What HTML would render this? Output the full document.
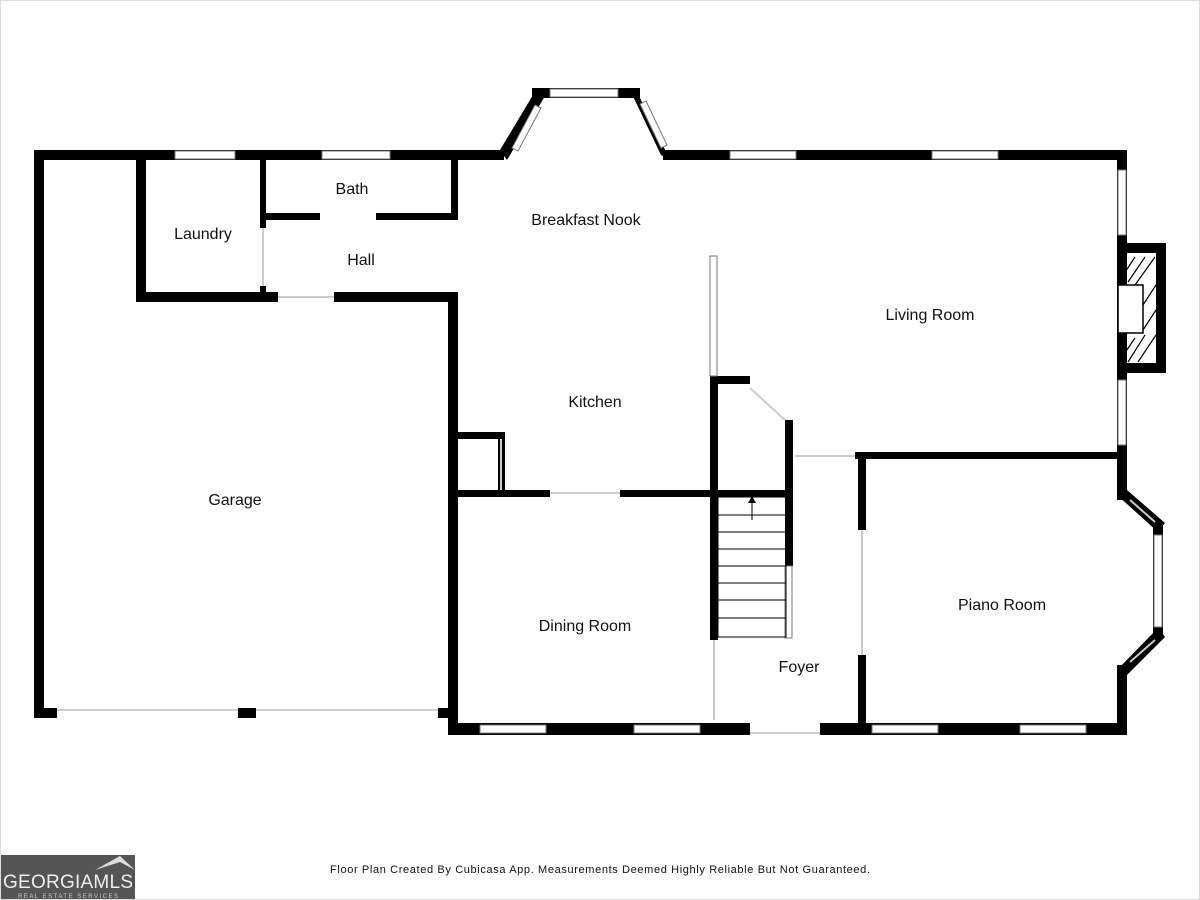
<!DOCTYPE html>
<html><head><style>body{margin:0;background:#fff}svg{display:block}</style></head><body>
<svg width="1200" height="900" xmlns="http://www.w3.org/2000/svg" font-family="Liberation Sans, sans-serif">
<rect width="1200" height="900" fill="#fff"/>
<g fill="#000">
<rect x="34" y="150" width="470" height="10"/>
<rect x="663" y="150" width="464" height="10"/>
<rect x="532" y="88" width="108" height="10"/>
<polygon points="500,150 507,160 545,96 536,90"/>
<polygon points="630,90 639,96 670,160 661,155"/>
<rect x="34" y="150" width="10" height="568"/>
<rect x="34" y="708" width="23" height="10"/>
<rect x="238" y="708" width="18" height="10"/>
<rect x="438" y="708" width="20" height="10"/>
<rect x="448" y="292" width="10" height="443"/>
<rect x="136" y="150" width="10" height="152"/>
<rect x="136" y="292" width="142" height="10"/>
<rect x="334" y="292" width="124" height="10"/>
<rect x="260" y="150" width="6" height="78"/>
<rect x="260" y="286" width="6" height="10"/>
<rect x="451" y="150" width="7" height="70"/>
<rect x="266" y="213" width="54" height="7"/>
<rect x="376" y="213" width="82" height="7"/>
<rect x="1117" y="150" width="10" height="95"/>
<rect x="1117" y="243" width="49" height="130"/>
<rect x="1117" y="373" width="10" height="82"/>
<rect x="1117" y="450" width="10" height="50"/>
<polygon points="1117,495 1127,490 1165,523 1158,532"/>
<rect x="1153" y="525" width="10" height="110"/>
<polygon points="1158,628 1165,637 1127,675 1117,670"/>
<rect x="1117" y="665" width="10" height="70"/>
<rect x="448" y="723" width="302" height="12"/>
<rect x="820" y="723" width="307" height="12"/>
<rect x="458" y="490" width="92" height="7"/>
<rect x="620" y="490" width="165" height="7"/>
<rect x="458" y="432" width="47" height="7"/>
<rect x="498" y="432" width="7" height="58"/>
<rect x="710" y="376" width="8" height="264"/>
<rect x="710" y="376" width="40" height="8"/>
<rect x="785" y="420" width="8" height="146"/>
<rect x="855" y="452" width="272" height="7"/>
<rect x="858" y="452" width="8" height="78"/>
<rect x="858" y="655" width="8" height="80"/>
</g>
<rect x="1127" y="253" width="29" height="110" fill="#fff"/>
<g stroke="#000" stroke-width="1.2">
<line x1="1120" y1="280" x2="1135" y2="257"/><line x1="1128" y1="282" x2="1145" y2="257"/><line x1="1135" y1="285" x2="1155" y2="257"/>
<line x1="1143" y1="305" x2="1156" y2="285"/><line x1="1143" y1="330" x2="1156" y2="310"/>
<line x1="1120" y1="360" x2="1135" y2="338"/><line x1="1128" y1="362" x2="1145" y2="335"/><line x1="1138" y1="362" x2="1156" y2="335"/>
</g>
<rect x="1118" y="285" width="25" height="48" fill="#fff" stroke="#000" stroke-width="1.5"/>
<g fill="#fff" stroke="#777" stroke-width="1">
<rect x="175" y="151" width="60" height="8"/><rect x="322" y="151" width="68" height="8"/>
<rect x="730" y="151" width="66" height="8"/><rect x="932" y="151" width="66" height="8"/>
<rect x="550" y="89" width="68" height="8"/>
<rect x="1118" y="170" width="8" height="65"/><rect x="1118" y="380" width="8" height="65"/>
<rect x="1154" y="535" width="8" height="92"/>
<rect x="480" y="725" width="66" height="8"/><rect x="634" y="725" width="66" height="8"/>
<rect x="872" y="725" width="66" height="8"/><rect x="1020" y="725" width="66" height="8"/>
<rect x="710" y="256" width="7" height="120"/>
<rect x="785" y="566" width="7" height="72"/>
<polygon points="512,148 518,151 541,108 535,105"/>
<polygon points="640,104 646,101 667,145 661,148"/>
</g>
<g stroke="#ccc" stroke-width="2" fill="none">
<line x1="1130" y1="500" x2="1155" y2="522"/><line x1="1130" y1="662" x2="1155" y2="640"/>
<line x1="750" y1="388" x2="785" y2="420"/>
<line x1="57" y1="710" x2="238" y2="710"/><line x1="256" y1="710" x2="438" y2="710"/>
<line x1="278" y1="297" x2="334" y2="297"/><line x1="263" y1="228" x2="263" y2="286"/>
<line x1="550" y1="493" x2="620" y2="493"/><line x1="501" y1="439" x2="501" y2="490"/>
<line x1="795" y1="456" x2="855" y2="456"/><line x1="862" y1="530" x2="862" y2="655"/>
<line x1="714" y1="640" x2="714" y2="720"/><line x1="750" y1="733" x2="820" y2="733"/>
</g>
<g stroke="#000" stroke-width="1" fill="none">
<rect x="718" y="497" width="68" height="140"/>
<line x1="718" y1="515" x2="786" y2="515"/><line x1="718" y1="532" x2="786" y2="532"/>
<line x1="718" y1="549" x2="786" y2="549"/><line x1="718" y1="566" x2="786" y2="566"/>
<line x1="718" y1="583" x2="786" y2="583"/><line x1="718" y1="600" x2="786" y2="600"/>
<line x1="718" y1="618" x2="786" y2="618"/>
<line x1="752" y1="500" x2="752" y2="520"/>
</g>
<polygon points="748,503 756,503 752,496" fill="#000"/>
<g font-size="16" fill="#111" text-anchor="middle">
<text x="352" y="194">Bath</text><text x="203" y="239">Laundry</text><text x="361" y="265">Hall</text>
<text x="586" y="225">Breakfast Nook</text><text x="930" y="320">Living Room</text>
<text x="595" y="407">Kitchen</text><text x="235" y="505">Garage</text>
<text x="585" y="631">Dining Room</text><text x="1002" y="610">Piano Room</text>
<text x="799" y="672">Foyer</text>
</g>
<text x="330" y="873" font-size="11" fill="#111" textLength="540" lengthAdjust="spacing">Floor Plan Created By Cubicasa App. Measurements Deemed Highly Reliable But Not Guaranteed.</text>
<rect x="0" y="855" width="135" height="45" fill="#555"/>
<polygon points="95,870 120,856 135,870 120,862" fill="#ddd"/>
<text x="3" y="888" font-size="19" fill="#eee" textLength="130">GEORGIAMLS</text>
<text x="18" y="898" font-size="6" fill="#ccc" textLength="100">REAL ESTATE SERVICES</text>
<rect x="0.5" y="0.5" width="1199" height="899" fill="none" stroke="#ddd"/>
</svg>
</body></html>
